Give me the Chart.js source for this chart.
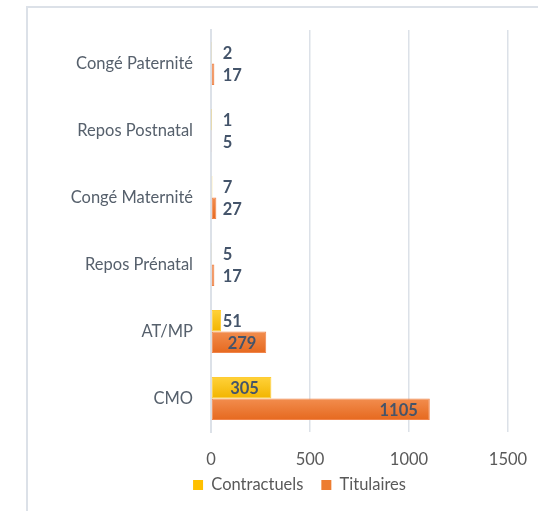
<!DOCTYPE html>
<html>
<head>
<meta charset="utf-8">
<script src="https://cdn.jsdelivr.net/npm/chart.js@4.4.1/dist/chart.umd.min.js"></script>
<style>
    html, body { margin: 0; padding: 0; background: #fff; overflow: hidden; }
    body { width: 538px; height: 511px; position: relative; }
    #frame { position: absolute; left: 26px; top: 6px; width: 600px; height: 600px;
             border-top: 2px solid #DCE1E8; border-left: 2px solid #DCE1E8; }
    #chart { position: absolute; left: 27px; top: 7px; }
</style>
</head>
<body>
<div id="frame"></div>
<canvas id="chart" width="545" height="520"></canvas>
<script>
// categories, top to bottom
const categories = ['Congé Paternité', 'Repos Postnatal', 'Congé Maternité', 'Repos Prénatal', 'AT/MP', 'CMO'];
const contractuels = [2, 1, 7, 5, 51, 305];
const titulaires = [17, 5, 27, 17, 279, 1105];
const xTicks = [0, 500, 1000, 1500];

const FONT = "Lato, 'Open Sans', sans-serif";
const labelColor = '#44546A';
const axisColor = '#595959';
const gridColor = '#DCE1E8';
const CAT_PCT = 0.64;
const PAD_RIGHT = 64;
const LEGEND_TOP = 451.75;

// vertical gradient per bar, worked out from the category scale
function barGradient(top, bottom) {
    return (ctx) => {
        const chart = ctx.chart;
        const ys = chart.scales.y;
        if (!ys || !chart.chartArea) return bottom;
        const center = ys.getPixelForValue(ctx.dataIndex);
        const half = (ys.height / categories.length) * CAT_PCT / 2;
        const y0 = ctx.datasetIndex === 0 ? center - half : center;
        const g = chart.ctx.createLinearGradient(0, y0, 0, y0 + half);
        g.addColorStop(0, top);
        g.addColorStop(1, bottom);
        return g;
    };
}

// value labels, placed roughly like the spreadsheet did
const valueLabels = {
    id: 'valueLabels',
    afterDatasetsDraw(chart) {
        const ctx = chart.ctx;
        ctx.save();
        ctx.font = "bold 16.5px " + FONT;
        ctx.fillStyle = labelColor;
        ctx.textBaseline = 'middle';
        chart.data.datasets.forEach((ds, di) => {
            chart.getDatasetMeta(di).data.forEach((bar, i) => {
                const txt = String(ds.data[i]);
                const w = bar.x - bar.base;
                if (w > 150) {
                    ctx.textAlign = 'right';
                    ctx.fillText(txt, bar.x - 12, bar.y + 1);
                } else if (w > 40) {
                    ctx.textAlign = 'center';
                    ctx.fillText(txt, (bar.x + bar.base) / 2 + 3, bar.y + 1);
                } else {
                    ctx.textAlign = 'left';
                    ctx.fillText(txt, Math.max(bar.x, bar.base + 10) + 1, bar.y + 1);
                }
            });
        });
        ctx.restore();
    }
};

// centre the legend on the whole canvas and pull it up under the ticks
const legendShift = {
    id: 'legendShift',
    afterLayout(chart) {
        const lg = chart.legend;
        const dy = LEGEND_TOP - lg.top;
        lg.left += PAD_RIGHT / 2;
        lg.right += PAD_RIGHT / 2;
        lg.top += dy;
        lg.bottom += dy;
    }
};

new Chart(document.getElementById('chart'), {
    type: 'bar',
    data: {
        labels: categories,
        datasets: [
            {
                label: 'Contractuels',
                data: contractuels,
                backgroundColor: barGradient('#FFD23A', '#F2B400'),
                borderColor: '#FFCC33',
                borderWidth: 1,
                borderSkipped: false,
                categoryPercentage: CAT_PCT,
                barPercentage: 1.0
            },
            {
                label: 'Titulaires',
                data: titulaires,
                backgroundColor: barGradient('#F28D4E', '#E6691F'),
                borderColor: '#F0844A',
                borderWidth: 1,
                borderSkipped: false,
                categoryPercentage: CAT_PCT,
                barPercentage: 1.0
            }
        ]
    },
    options: {
        indexAxis: 'y',
        responsive: false,
        animation: false,
        devicePixelRatio: 1,
        layout: { padding: { top: 23, right: PAD_RIGHT, left: 0, bottom: 12.5 } },
        plugins: {
            legend: {
                position: 'bottom',
                labels: {
                    boxWidth: 10,
                    boxHeight: 10,
                    padding: 18,
                    color: axisColor,
                    font: { family: FONT, size: 16.5 },
                    generateLabels: (chart) => chart.data.datasets.map((ds, i) => ({
                        text: ds.label,
                        fillStyle: i === 0 ? '#FFC000' : '#ED7D31',
                        strokeStyle: i === 0 ? '#FFC000' : '#ED7D31',
                        lineWidth: 0,
                        datasetIndex: i,
                        fontColor: axisColor
                    }))
                }
            },
            tooltip: { enabled: false }
        },
        scales: {
            x: {
                min: xTicks[0],
                max: xTicks[xTicks.length - 1],
                afterBuildTicks: (scale) => { scale.ticks = xTicks.map(v => ({ value: v })); },
                grid: { color: gridColor, lineWidth: 1.5, drawTicks: false },
                border: { display: false },
                ticks: { color: axisColor, padding: 17.5, font: { family: FONT, size: 16.5 },
                         callback: (v) => String(v) },
                afterFit: (scale) => { scale.height = 38; }
            },
            y: {
                grid: { display: false, drawTicks: false },
                border: { display: true, color: gridColor, width: 2 },
                ticks: { color: '#56606C', padding: 18, font: { family: FONT, size: 16.5 } },
                afterFit: (scale) => {
                    scale.width = 184;
                    scale.paddingTop = 0;
                    scale.paddingBottom = 0;
                }
            }
        }
    },
    plugins: [valueLabels, legendShift]
});
</script>
</body>
</html>
